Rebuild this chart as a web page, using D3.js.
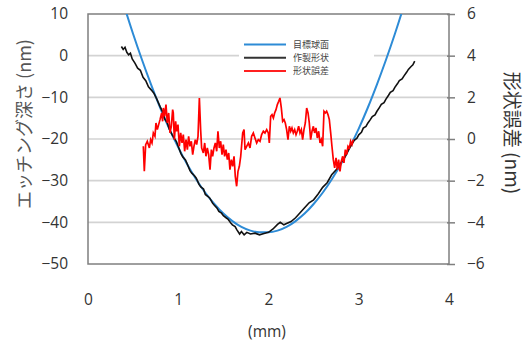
<!DOCTYPE html>
<html><head><meta charset="utf-8">
<script src="https://cdn.jsdelivr.net/npm/d3@7"></script>
<style>
html,body{margin:0;padding:0;background:#fff;}
svg{display:block;}
</style></head>
<body>
<svg id="c" width="526" height="347"></svg>
<script>
// ---- data ----
const xTicks = [0, 1, 2, 3, 4];
const yLeftTicks = [10, 0, -10, -20, -30, -40, -50];
const yRightTicks = [6, 4, 2, 0, -2, -4, -6];
const legendLabels = ["目標球面", "作製形状", "形状誤差"];

// 目標球面 (target sphere), nm
const targetX = [0.3,0.4,0.5,0.6,0.7,0.8,0.9,1.0,1.1,1.2,1.3,1.4,1.5,1.6,1.7,1.8,1.9,2.0,2.1,2.2,2.3,2.4,2.5,2.6,2.7,2.8,2.9,3.0,3.1,3.2,3.3,3.4,3.5,3.6];
const targetY = [19.3,12.0,5.2,-1.1,-7.0,-12.5,-17.5,-22.0,-26.1,-29.7,-32.9,-35.6,-37.9,-39.7,-41.1,-42.0,-42.4,-42.4,-42.0,-41.1,-39.7,-37.9,-35.6,-32.9,-29.7,-26.1,-22.0,-17.5,-12.5,-7.0,-1.1,5.2,12.0,19.3];

// 作製形状 (fabricated shape), nm
const shapeX = [0.37,0.39,0.41,0.43,0.45,0.47,0.49,0.52,0.55,0.58,0.61,0.64,0.67,0.70,0.73,0.76,0.80,0.83,0.85,0.88,0.90,0.93,0.95,0.98,1.00,1.03,1.05,1.08,1.10,1.13,1.15,1.18,1.20,1.23,1.25,1.28,1.30,1.33,1.35,1.38,1.40,1.43,1.45,1.48,1.50,1.53,1.55,1.58,1.60,1.63,1.65,1.68,1.70,1.73,1.76,1.80,1.85,1.90,1.95,2.00,2.05,2.10,2.13,2.17,2.20,2.25,2.30,2.35,2.40,2.45,2.50,2.55,2.60,2.65,2.70,2.75,2.80,2.85,2.90,2.95,2.98,3.00,3.03,3.05,3.08,3.10,3.13,3.15,3.18,3.20,3.23,3.25,3.28,3.30,3.33,3.35,3.38,3.40,3.43,3.45,3.48,3.50,3.53,3.55,3.58,3.60,3.62];
const shapeY = [2.2,1.5,2.0,0.8,0.2,0.6,-0.8,-1.8,-3.0,-3.5,-5.2,-6.0,-7.5,-8.2,-9.0,-10.3,-12.3,-13.6,-15.2,-16.2,-17.6,-18.9,-19.6,-20.6,-21.8,-23.5,-24.3,-25.0,-26.0,-27.6,-28.2,-28.8,-29.4,-30.9,-31.5,-32.0,-33.3,-33.8,-34.2,-35.4,-35.9,-36.6,-37.4,-37.8,-38.4,-38.9,-39.2,-40.1,-40.6,-41.0,-41.8,-42.8,-42.2,-43.0,-42.4,-42.8,-42.6,-43.0,-42.7,-42.4,-41.6,-40.5,-40.0,-40.6,-40.3,-39.8,-38.9,-37.7,-36.5,-35.3,-34.6,-33.2,-31.6,-30.5,-28.6,-27.4,-25.8,-24.2,-22.1,-20.3,-19.8,-19.0,-18.4,-17.4,-17.0,-16.2,-15.3,-14.6,-14.2,-13.4,-12.4,-11.7,-11.3,-10.5,-9.5,-8.8,-8.4,-7.6,-6.7,-6.0,-5.6,-4.9,-4.0,-3.3,-2.6,-2.2,-1.3];

// 形状誤差 (shape error), nm
const errorX = [0.613,0.624,0.639,0.657,0.680,0.694,0.709,0.724,0.742,0.753,0.768,0.783,0.798,0.816,0.827,0.835,0.849,0.864,0.879,0.894,0.909,0.923,0.938,0.945,0.957,0.971,0.982,0.997,1.012,1.027,1.042,1.056,1.071,1.086,1.101,1.115,1.130,1.145,1.160,1.174,1.189,1.204,1.219,1.234,1.248,1.259,1.278,1.293,1.307,1.322,1.337,1.352,1.367,1.381,1.396,1.411,1.426,1.440,1.455,1.470,1.485,1.499,1.514,1.529,1.544,1.559,1.573,1.588,1.603,1.618,1.632,1.647,1.662,1.677,1.692,1.714,1.729,1.740,1.758,1.777,1.795,1.813,1.832,1.850,1.869,1.887,1.906,1.924,1.943,1.961,1.980,1.998,2.009,2.024,2.039,2.054,2.068,2.083,2.098,2.113,2.127,2.142,2.157,2.172,2.186,2.201,2.216,2.231,2.246,2.260,2.275,2.290,2.305,2.319,2.334,2.349,2.364,2.378,2.393,2.408,2.423,2.438,2.452,2.467,2.482,2.497,2.511,2.526,2.541,2.556,2.571,2.585,2.600,2.615,2.630,2.644,2.659,2.674,2.689,2.703,2.718,2.733,2.748,2.763,2.777,2.792,2.807,2.822,2.836,2.851,2.866,2.881,2.896,2.910,2.925,2.940];
const errorY = [-0.35,-1.55,-0.27,-0.11,-0.43,-0.03,-0.19,0.29,0.13,0.77,0.45,0.69,0.93,1.25,0.85,1.49,1.09,1.65,0.77,1.25,0.29,0.61,1.41,1.25,-0.03,0.85,0.37,0.69,-0.35,0.29,-0.19,0.21,-0.59,-0.03,-0.51,0.13,-0.35,-0.11,-0.75,-0.35,-0.03,-0.27,0.13,1.97,0.45,-0.43,-0.67,-0.19,-0.83,-0.43,-0.75,-1.47,-0.51,-0.83,-0.43,-0.19,-0.59,0.37,-0.43,-0.11,-0.75,-0.27,-0.83,-0.51,-0.99,-0.67,-1.47,-0.99,-1.31,-0.83,-1.79,-2.27,-1.55,-1.31,-0.83,0.29,0.45,-0.51,-0.35,-0.19,-0.43,0.13,0.29,0.05,-0.19,-0.03,-0.11,0.21,0.37,0.29,0.45,0.29,-0.19,1.09,1.17,1.01,1.25,1.41,1.65,1.81,1.97,1.49,0.85,0.93,0.77,0.45,-0.03,0.61,0.37,0.53,0.29,0.45,0.21,0.37,0.61,0.29,0.45,-0.03,0.45,0.77,1.49,1.25,0.77,-0.03,0.37,0.61,0.29,0.53,0.05,0.37,-0.19,-0.03,-0.35,1.33,1.25,1.33,1.17,0.93,0.29,-0.35,-0.99,-1.39,-0.91,-1.47,-0.99,-1.55,-1.07,-0.83,-1.15,-0.51,-0.75,-0.35,-0.43,-0.11,-0.27,-0.03];

// ---- chart ----
const svg = d3.select("#c");
const L = 88, R = 449, T = 14, B = 264;
const x = d3.scaleLinear().domain([0, 4]).range([L, R]);
const yL = d3.scaleLinear().domain([-50, 10]).range([B, T]);
const yR = d3.scaleLinear().domain([-6, 6]).range([B, T]);

const numFont = "'Open Sans', 'Liberation Sans', sans-serif";
const cjkFont = "'Noto Sans CJK JP', 'Noto Sans', sans-serif";

svg.append("defs").append("clipPath").attr("id", "clip")
  .append("rect").attr("x", L).attr("y", T).attr("width", R - L).attr("height", B - T);

// gridlines
svg.append("g").selectAll("line").data(yLeftTicks.filter(d => d > -50 && d < 10)).join("line")
  .attr("x1", L).attr("x2", R).attr("y1", d => yL(d)).attr("y2", d => yL(d))
  .attr("stroke", "#d3d3d3").attr("stroke-width", 1.6);

// frame
svg.append("rect").attr("x", L).attr("y", T).attr("width", R - L).attr("height", B - T)
  .attr("fill", "none").attr("stroke", "#7f7f7f").attr("stroke-width", 1.5);

const axL = d3.axisLeft(yL).tickValues(yLeftTicks).tickSize(0).tickPadding(20);
const gL = svg.append("g").attr("transform", `translate(${L},0)`).call(axL);
const axR = d3.axisRight(yR).tickValues(yRightTicks).tickSize(6).tickPadding(12);
const gR = svg.append("g").attr("transform", `translate(${R},0)`).call(axR);
gR.selectAll(".tick line").attr("x1", -2).attr("stroke", "#7f7f7f").attr("stroke-width", 1.5);
const axB = d3.axisBottom(x).tickValues(xTicks).tickFormat(d3.format("d")).tickSize(0).tickPadding(30);
const gB = svg.append("g").attr("transform", `translate(0,${B})`).call(axB);
[gL, gR, gB].forEach(g => {
  g.select(".domain").remove();
  g.selectAll(".tick text").attr("font-family", numFont).attr("font-size", 15.5).attr("fill", "#333");
});

// lines
const gLines = svg.append("g").attr("clip-path", "url(#clip)");
const lineL = d3.line().x(d => x(d[0])).y(d => yL(d[1]));
const lineR = d3.line().x(d => x(d[0])).y(d => yR(d[1]));
gLines.append("path").datum(targetX.map((v, i) => [v, targetY[i]]))
  .attr("d", d3.line().x(d => x(d[0])).y(d => yL(d[1])).curve(d3.curveMonotoneX))
  .attr("fill", "none").attr("stroke", "#2d8bd6").attr("stroke-width", 2);
gLines.append("path").datum(shapeX.map((v, i) => [v, shapeY[i]]))
  .attr("d", lineL).attr("fill", "none").attr("stroke", "#111").attr("stroke-width", 1.6);
gLines.append("path").datum(errorX.map((v, i) => [v, errorY[i]]))
  .attr("d", lineR).attr("fill", "none").attr("stroke", "#ff0000").attr("stroke-width", 1.7);

// legend
const lg = svg.append("g");
lg.append("rect").attr("x", 239).attr("y", 36).attr("width", 135).attr("height", 42).attr("fill", "#fff");
const legColors = ["#2d8bd6", "#333", "#ff2020"];
legendLabels.forEach((t, i) => {
  const yy = 44.5 + i * 13.2;
  lg.append("line").attr("x1", 244).attr("x2", 286).attr("y1", yy).attr("y2", yy)
    .attr("stroke", legColors[i]).attr("stroke-width", 2);
  lg.append("text").attr("x", 293).attr("y", yy).attr("dy", "0.35em")
    .attr("font-family", cjkFont).attr("font-size", 9).attr("fill", "#444").text(t);
});

// axis titles
svg.append("text").attr("transform", "translate(25,124) rotate(-90)").attr("text-anchor", "middle")
  .attr("dy", "0.35em").attr("font-family", cjkFont).attr("font-size", 18).attr("fill", "#555")
  .text("エッチング深さ (nm)");
svg.append("text").attr("transform", "translate(512,133) rotate(90)").attr("text-anchor", "middle")
  .attr("dy", "0.35em").attr("font-family", cjkFont).attr("font-size", 19).attr("fill", "#333")
  .text("形状誤差 (nm)");
svg.append("text").attr("x", 267).attr("y", 332).attr("text-anchor", "middle").attr("dy", "0.35em")
  .attr("font-family", numFont).attr("font-size", 15.5).attr("fill", "#333").text("(mm)");
</script>
</body></html>
